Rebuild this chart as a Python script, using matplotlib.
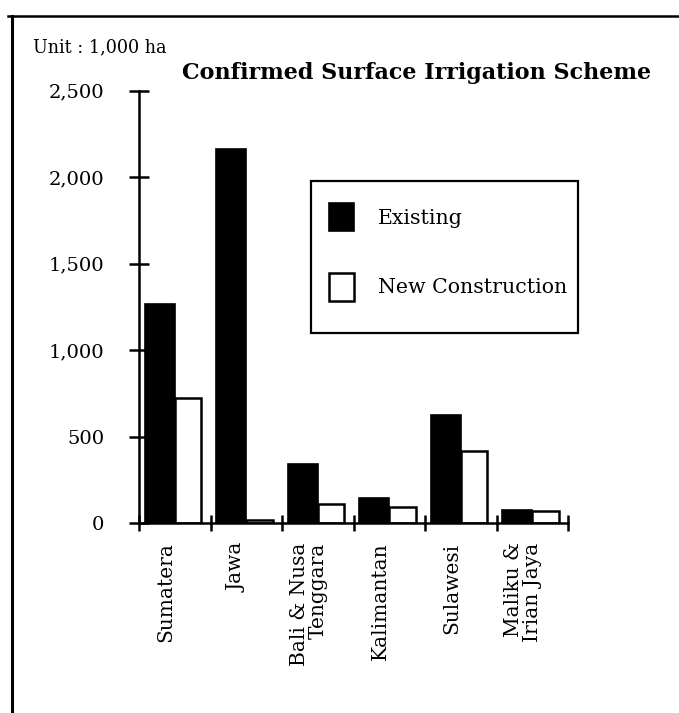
import matplotlib
matplotlib.use("Agg")
import matplotlib.pyplot as plt
from matplotlib.lines import Line2D
from matplotlib.patches import Rectangle
import numpy as np

categories = ["Sumatera", "Jawa", "Bali & Nusa\nTenggara", "Kalimantan", "Sulawesi", "Maliku &\nIrian Jaya"]
existing = [1265, 2160, 340, 145, 625, 75]
new_construction = [720, 15, 110, 93, 415, 70]
yticks = [0, 500, 1000, 1500, 2000, 2500]
ytick_labels = ["0", "500", "1,000", "1,500", "2,000", "2,500"]

W, H = 679, 713
plt.rcParams['font.family'] = ['DejaVu Serif', 'Liberation Serif']
fig = plt.figure(figsize=(W / 100, H / 100), dpi=100)

ax_l, ax_r, ax_t, ax_b = 139.3, 568, 90.7, 523
ax = fig.add_axes([ax_l / W, 1 - ax_b / H, (ax_r - ax_l) / W, (ax_b - ax_t) / H])

x = np.arange(len(categories))
b1 = ax.bar(x + 0.08, existing, width=0.42, align='edge', color='black', edgecolor='black', linewidth=1.2, label='Existing')
b2 = ax.bar(x + 0.50, new_construction, width=0.37, align='edge', color='white', edgecolor='black', linewidth=1.8, label='New Construction')

ax.set_xlim(0, len(categories))
ax.set_ylim(0, 2500)
for s in ['top', 'right']:
    ax.spines[s].set_visible(False)
ax.spines['left'].set_linewidth(1.8)
ax.spines['bottom'].set_linewidth(1.8)

ax.set_yticks(yticks)
ax.set_yticklabels(ytick_labels, fontsize=14)
ax.tick_params(axis='y', direction='inout', length=14, width=1.8, pad=18)

ax.set_xticks(np.arange(len(categories) + 1))
ax.set_xticklabels([])
ax.tick_params(axis='x', which='major', direction='inout', length=12, width=1.8)
ax.set_xticks(x + 0.37, minor=True)
ax.set_xticklabels(categories, minor=True, rotation=90, fontsize=14.5, multialignment='right',
                   linespacing=0.95)
ax.tick_params(axis='x', which='minor', length=0, pad=14)

# legend frame drawn separately to match the reference box proportions
frame = Rectangle((311 / W, 1 - 333 / H), (578 - 311) / W, (333 - 181) / H,
                  transform=fig.transFigure, facecolor='white', edgecolor='black',
                  linewidth=1.6, zorder=3, clip_on=False)
ax.add_patch(frame)
leg = ax.legend(handles=[b1, b2], loc='upper left',
                bbox_to_anchor=(329 / W, 1 - 203 / H, (578 - 329) / W, 0),
                bbox_transform=fig.transFigure, borderaxespad=0,
                fontsize=14.8, handlelength=1.22, handleheight=1.71,
                labelspacing=2.04, borderpad=0, handletextpad=1.15,
                frameon=False)
leg.set_zorder(6)

fig.text(33 / W, 1 - 47 / H, "Unit : 1,000 ha", fontsize=12.7, ha='left', va='center')
fig.text(417 / W, 1 - 73 / H, "Confirmed Surface Irrigation Scheme", fontsize=16,
         fontweight='bold', ha='center', va='center')

fig.add_artist(Line2D([8 / W, 1.0], [1 - 16 / H, 1 - 16 / H], transform=fig.transFigure, color='black', linewidth=1.8))
fig.add_artist(Line2D([12 / W, 12 / W], [1 - 16 / H, 0], transform=fig.transFigure, color='black', linewidth=2.2))

fig.savefig("out.png", dpi=100)
